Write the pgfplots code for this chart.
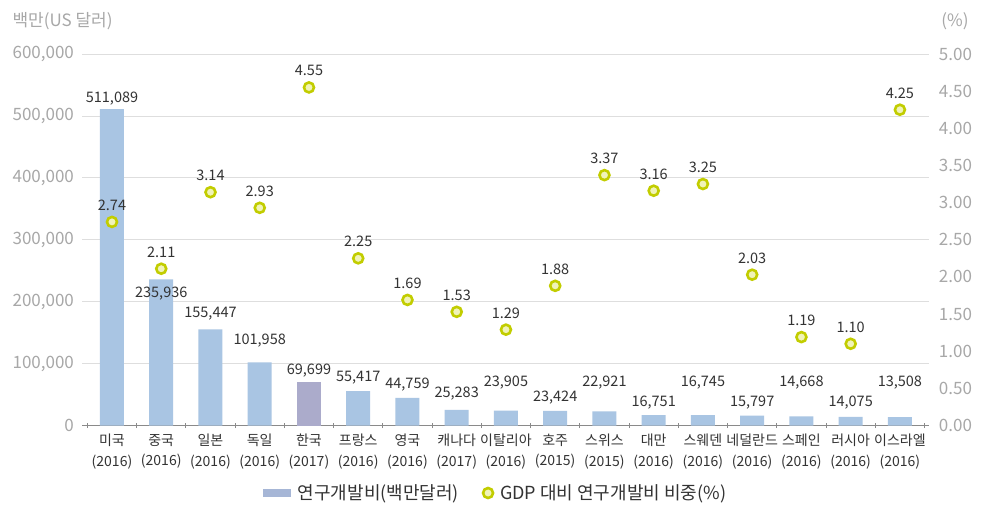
\documentclass[border=0pt]{standalone}
\usepackage{fontspec}
\setmainfont{Noto Sans CJK KR}
\usepackage{pgfplots}
\pgfplotsset{compat=1.18}
\usepackage{pgfplotstable}

\definecolor{barblue}{HTML}{A9C5E3}
\definecolor{barkor}{HTML}{ABABCB}
\definecolor{legbar}{HTML}{A6B6D6}
\definecolor{ringc}{HTML}{C2CD00}
\definecolor{ringfill}{HTML}{F0F3B8}
\definecolor{tickgray}{HTML}{A8A8A8}
\definecolor{gridgray}{HTML}{DEDEDE}
\definecolor{axisgray}{HTML}{8A8A8A}
\definecolor{txt}{HTML}{333333}

% x: position, rd: R&D spending (million USD), gdp: share of GDP (%),
% lbl: height at which the spending label sits
\pgfplotstableread{
x  rd      gdp   lbl
0  511089  2.74  516800
1  235936  2.11  201900
2  155447  3.14  169600
3  101958  2.93  126000
4  69699   4.55  77500
5  55417   2.25  66200
6  44759   1.69  54900
7  25283   1.53  40400
8  23905   1.29  58100
9  23424   1.88  33900
10 22921   3.37  58100
11 16751   3.16  25800
12 16745   3.25  58100
13 15797   2.03  25800
14 14668   1.19  58100
15 14075   1.10  25800
16 13508   4.25  58100
}\rdtable

\begin{document}
\begin{tikzpicture}
\path[use as bounding box, fill=white] (0,0) rectangle (982pt,512pt);

% left axis: spending bars
\begin{axis}[
  at={(82.45pt,86.5pt)}, anchor=south west,
  scale only axis, width=847pt, height=371.5pt,
  xmin=-0.6, xmax=16.6, ymin=0, ymax=600000,
  axis x line*=bottom, axis y line*=left,
  x axis line style={draw=axisgray, line width=1.1pt, -},
  y axis line style={draw=none},
  ytick style={draw=none},
  major tick length=0pt,
  minor tick length=5pt,
  tick align=center,
  xtick={0,...,16},
  minor xtick={-0.5,0.5,...,16.5},
  xtick style={draw=axisgray, line width=0.9pt},
  xticklabels={{미국\\(2016)},{중국\\(2016)},{일본\\(2016)},{독일\\(2016)},{한국\\(2017)},{프랑스\\(2016)},{영국\\(2016)},{캐나다\\(2017)},{이탈리아\\(2016)},{호주\\(2015)},{스위스\\(2015)},{대만\\(2016)},{스웨덴\\(2016)},{네덜란드\\(2016)},{스페인\\(2016)},{러시아\\(2016)},{이스라엘\\(2016)}},
  xticklabel style={align=center, font=\fontsize{14}{20.5}\selectfont, text=txt, yshift=-5pt},
  ytick={0,100000,...,600000},
  scaled y ticks=false,
  yticklabel style={font=\fontsize{17}{20}\selectfont, text=tickgray, xshift=-5pt},
  /pgf/number format/fixed,
  /pgf/number format/1000 sep={,},
  /pgf/number format/assume math mode=true,
  ymajorgrids,
  grid style={draw=gridgray, line width=0.8pt},
  clip=false,
]
\addplot[ybar, bar width=24pt, bar shift=0pt, fill=barblue, draw=none,
  skip coords between index={4}{5}] table[x=x, y=rd] {\rdtable};
\addplot[ybar, bar width=24pt, bar shift=0pt, fill=barkor, draw=none,
  skip coords between index={0}{4}, skip coords between index={5}{17}] table[x=x, y=rd] {\rdtable};
% spending labels
\addplot[draw=none, no markers, nodes near coords, point meta=explicit,
  nodes near coords style={font=\fontsize{14.5}{16}\selectfont, text=txt, inner sep=0pt}]
  table[x=x, y=lbl, meta=rd] {\rdtable};
\end{axis}

% right axis: share of GDP
\begin{axis}[
  at={(82.45pt,86.5pt)}, anchor=south west,
  scale only axis, width=847pt, height=371.5pt,
  xmin=-0.6, xmax=16.6, ymin=0, ymax=5,
  axis x line=none, axis y line*=right,
  y axis line style={draw=none},
  ytick style={draw=none},
  major tick length=0pt,
  ytick={0,0.5,1,1.5,2,2.5,3,3.5,4,4.5,5},
  yticklabel style={font=\fontsize{17}{20}\selectfont, text=tickgray, xshift=6pt},
  /pgf/number format/fixed,
  /pgf/number format/fixed zerofill,
  /pgf/number format/precision=2,
  /pgf/number format/assume math mode=true,
  clip=false,
  legend columns=2,
  legend cell align=left,
  legend style={draw=none, fill=none, at={(0.488,-0.1817)}, anchor=center,
    font=\fontsize{18}{21}\selectfont, text=txt,
    /tikz/every odd column/.append style={column sep=5pt},
    /tikz/every even column/.append style={column sep=22pt}},
]
\addlegendimage{legend image code/.code={\fill[legbar] (0pt,-3.5pt) rectangle (27pt,3.5pt);}}
\addlegendentry{연구개발비(백만달러)}
\addplot[only marks, mark=*, mark size=5pt,
  mark options={draw=ringc, fill=ringfill, line width=2.6pt},
  nodes near coords, point meta=explicit,
  nodes near coords style={font=\fontsize{14.5}{16}\selectfont, text=txt, inner sep=0pt, yshift=10pt}]
  table[x=x, y=gdp, meta=gdp] {\rdtable};
\addlegendentry{GDP 대비 연구개발비 비중(\%)}
\end{axis}

\node[anchor=west, text=tickgray, font=\fontsize{17}{20}\selectfont] at (9pt,491pt) {백만(US 달러)};
\node[anchor=center, text=tickgray, font=\fontsize{17}{20}\selectfont] at (955pt,491pt) {(\%)};
\end{tikzpicture}
\end{document}
